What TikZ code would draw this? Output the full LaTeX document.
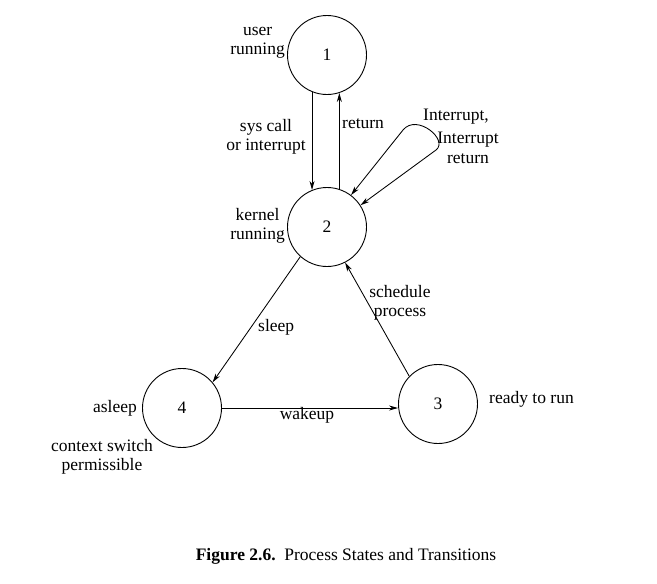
\documentclass[tikz,border=0pt]{standalone}
\usepackage{fontspec}
\setmainfont{Liberation Serif}
\usetikzlibrary{arrows.meta}
\begin{document}
\begin{tikzpicture}[x=1pt,y=-1pt,
  state/.style={draw,circle,line width=0.9pt,minimum size=79pt,inner sep=0pt},
  lbl/.style={inner sep=0pt,font=\fontsize{17.5}{19.5}\selectfont,align=center},
  edge/.style={line width=0.85pt,-{Stealth[length=9pt,width=5pt]}},
  every node/.style={font=\fontsize{17.5}{19.5}\selectfont}]
\useasboundingbox (0,0) rectangle (657,584);
\node[state] (n1) at (327,55) {1};
\node[state] (n2) at (327,227) {2};
\node[state] (n4) at (182,408) {4};
\node[state] (n3) at (438,404) {3};
% edges
\draw[edge] (n1.-112.6) -- (n2.112.6);
\draw[edge] (n2.72) -- (n1.-72);
\draw[line width=0.85pt,{Stealth[length=9pt,width=5pt]}-{Stealth[length=9pt,width=5pt]}]
  (n2.53) -- (403,130) .. controls (417,113) and (449,140) .. (436,150) -- (n2.33);
\draw[edge] (n2.228) -- (n4.40);
\draw[edge] (n3.136) -- (n2.-63);
\draw[edge] (n4.east) -- (n4.east -| n3.west);
% labels
\node[lbl,anchor=east] (l1) at (285,43) {user\\running};
\node[lbl] (lsc) at (266,137) {sys call\\or interrupt};
\node[lbl,anchor=west] (lret) at (342,124) {return};
\node[lbl,anchor=west] (lint1) at (423,117) {Interrupt,};
\node[lbl] (lint2) at (468,148) {Interrupt\\return};
\node[lbl,anchor=east] (l2) at (285,226) {kernel\\running};
\node[lbl,anchor=west] (lsl) at (258,327) {sleep};
\node[lbl] (lsch) at (400,303) {schedule\\process};
\node[lbl,anchor=east] (lasl) at (137,408) {asleep};
\node[lbl] (lctx) at (102,457) {context switch\\permissible};
\node[lbl] (lwk) at (307,415) {wakeup};
\node[lbl,anchor=west] (lrdy) at (489,399) {ready to run};
\node[lbl] (cap) at (346,556) {\textbf{Figure 2.6.}\ \ Process States and Transitions};
\end{tikzpicture}
\end{document}
